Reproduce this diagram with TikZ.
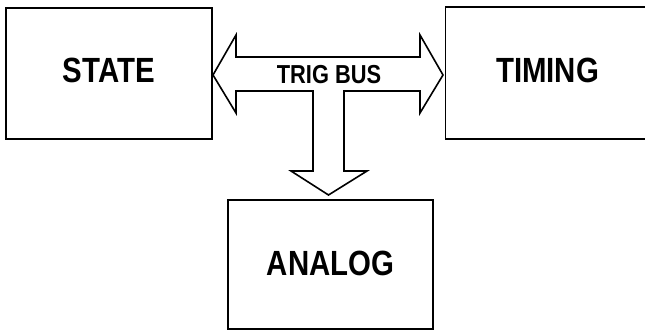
\documentclass[tikz,border=0pt]{standalone}
\usepackage{fontspec}
\setmainfont{Liberation Sans}[FakeStretch=0.84]
\usepackage{tikz}
\usetikzlibrary{positioning,calc}

\begin{document}
\begin{tikzpicture}[
          x=1pt, y=-1pt,
          every node/.style={font=\fontsize{35}{40}\selectfont\bfseries},
          unit/.style={draw,line width=1.6pt,inner sep=0pt},
          bus/.style={draw,line width=1.6pt,line join=miter,fill=white},
      ]
        \useasboundingbox (0,0) rectangle (645,331);

        \node[unit,minimum width=206pt,minimum height=131pt] (state) at (109,73.5) {\raisebox{6pt}{STATE}};
        \node[unit,minimum width=204pt,minimum height=132pt] (timing) at (547.5,73) {\raisebox{6pt}{TIMING}};
        \node[unit,minimum width=205pt,minimum height=129pt] (analog) at (330.5,264.5) {\raisebox{3pt}{ANALOG}};

        % trigger bus, drawn as one outline
        \draw[bus] (213,75) -- (236,35) -- (236,57) -- (420,57) -- (420,35)
          -- (443,75) -- (420,113) -- (420,91) -- (344,91) -- (344,171)
          -- (367,171) -- (328.5,195) -- (291,171) -- (313,171) -- (313,91)
          -- (236,91) -- (236,113) -- cycle;
        \node[font=\fontsize{26}{30}\selectfont\bfseries] (trig) at (329,74.5) {TRIG BUS};
      \end{tikzpicture}
\end{document}
